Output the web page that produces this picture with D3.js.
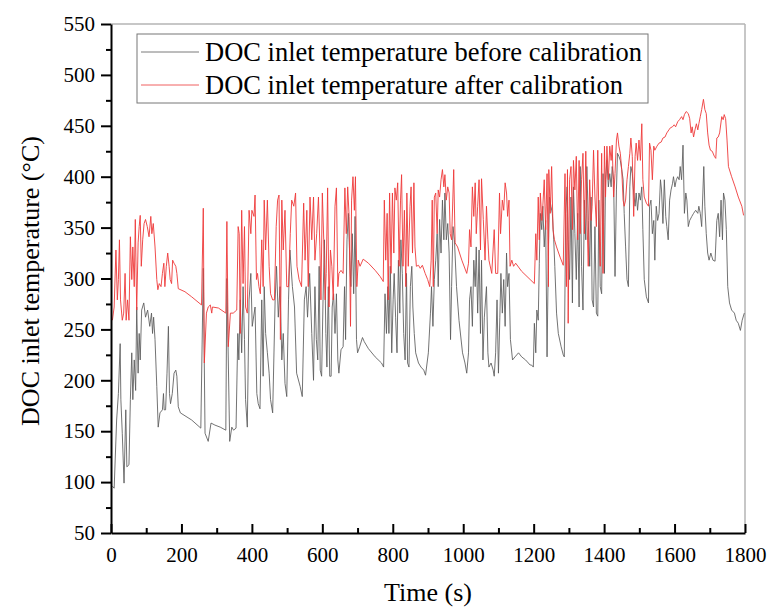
<!DOCTYPE html>
<html>
<head>
<meta charset="utf-8">
<script src="https://cdn.jsdelivr.net/npm/d3@7"></script>
<style>
body { margin: 0; background: #fff; }
#svgDiv { width: 767px; height: 607px; }
text { font-family: "Liberation Serif", "Times New Roman", serif; fill: #000; }
</style>
</head>
<body>
<div id="svgDiv"></div>
<script>
// values: [time (s), temperature (°C)]
var beforeSeries = [
  [4,96],[9,94],[16,161],[21,187],[26,236],[28,181],[32,148],[37,99],[42,171],[45,115],[51,117],[55,181],
  [59,227],[62,181],[66,220],[70,190],[73,272],[77,207],[80,246],[83,220],[87,269],[93,276],[98,262],[104,269],
  [110,253],[115,266],[118,246],[121,262],[125,240],[130,194],[134,154],[139,168],[146,171],[149,187],[151,171],
  [155,171],[159,207],[163,253],[166,187],[169,177],[174,187],[179,207],[184,210],[187,204],[191,174],[197,168],
  [229,161],[255,153],[262,310],[267,148],[276,140],[284,158],[295,156],[310,154],[326,151],[329,300],[337,140],
  [343,154],[348,151],[355,153],[360,246],[363,220],[367,279],[371,227],[375,292],[379,240],[382,181],[387,154],
  [392,279],[397,305],[401,253],[409,272],[414,187],[418,177],[423,172],[428,279],[432,204],[435,292],[439,246],
  [444,227],[449,207],[453,181],[459,168],[466,279],[470,312],[475,262],[480,292],[485,220],[489,246],[494,197],
  [499,184],[504,279],[508,328],[515,292],[521,272],[527,207],[537,194],[543,184],[549,279],[554,292],[558,262],
  [564,305],[570,246],[575,200],[579,292],[583,240],[587,220],[591,312],[594,210],[598,204],[602,279],[606,338],
  [610,246],[613,213],[617,292],[621,204],[625,204],[628,272],[632,285],[636,246],[640,285],[644,220],[647,207],
  [653,230],[659,233],[663,292],[666,240],[670,338],[674,364],[678,318],[681,292],[685,344],[689,285],[693,361],
  [697,240],[700,227],[706,233],[714,242],[719,238],[731,231],[750,223],[768,217],[774,213],[778,285],[782,246],
  [786,292],[789,246],[793,312],[797,227],[801,279],[804,305],[808,262],[812,227],[816,318],[820,266],[823,338],
  [827,305],[831,246],[835,220],[839,305],[842,217],[846,213],[850,292],[854,312],[857,272],[861,246],[865,227],
  [873,217],[880,213],[888,210],[893,205],[901,227],[907,266],[910,292],[914,253],[918,299],[922,318],[926,344],
  [929,292],[933,358],[937,325],[941,377],[945,338],[948,384],[952,338],[956,354],[960,325],[964,240],[967,292],
  [971,351],[975,338],[981,292],[988,259],[998,227],[1005,217],[1010,207],[1015,227],[1018,279],[1022,292],
  [1026,253],[1030,318],[1034,292],[1037,331],[1041,266],[1045,328],[1049,246],[1052,318],[1056,220],[1060,262],
  [1066,292],[1070,227],[1073,213],[1079,217],[1085,210],[1088,204],[1092,227],[1096,279],[1100,207],[1104,262],
  [1107,305],[1111,266],[1115,299],[1119,253],[1123,325],[1126,292],[1130,305],[1134,240],[1140,220],[1147,223],
  [1157,227],[1166,223],[1177,220],[1190,215],[1194,215],[1199,213],[1202,256],[1206,227],[1209,269],[1213,259],
  [1216,315],[1219,364],[1223,348],[1226,371],[1230,331],[1234,357],[1238,223],[1242,331],[1245,380],[1249,371],
  [1253,364],[1257,338],[1260,312],[1265,266],[1270,246],[1278,233],[1284,225],[1287,223],[1291,364],[1295,390],
  [1298,338],[1302,299],[1306,380],[1310,276],[1313,390],[1317,344],[1321,299],[1325,364],[1329,272],[1332,410],
  [1336,312],[1340,269],[1344,377],[1348,338],[1351,410],[1355,357],[1359,312],[1363,380],[1366,279],[1370,272],
  [1374,351],[1378,266],[1382,263],[1385,377],[1389,292],[1393,285],[1397,403],[1401,305],[1404,397],[1408,416],
  [1412,390],[1416,403],[1420,390],[1423,410],[1427,397],[1431,302],[1435,387],[1438,423],[1442,420],[1446,416],
  [1450,407],[1454,397],[1457,364],[1461,331],[1465,299],[1469,292],[1473,390],[1476,410],[1480,403],[1484,384],
  [1488,371],[1491,384],[1495,367],[1499,384],[1503,377],[1507,390],[1510,348],[1514,299],[1520,282],[1526,276],
  [1529,371],[1533,377],[1537,344],[1541,357],[1544,318],[1548,371],[1552,357],[1556,364],[1560,397],[1563,387],
  [1567,354],[1571,397],[1575,361],[1578,351],[1582,338],[1586,377],[1590,387],[1594,393],[1597,400],[1601,390],
  [1605,397],[1609,400],[1613,397],[1616,410],[1620,397],[1624,431],[1628,364],[1632,384],[1635,377],[1639,351],
  [1643,357],[1649,361],[1654,364],[1660,367],[1666,364],[1669,371],[1673,364],[1677,351],[1683,410],[1686,371],
  [1690,344],[1694,325],[1698,318],[1703,325],[1709,318],[1715,317],[1720,357],[1724,364],[1728,341],[1732,377],
  [1736,338],[1739,384],[1743,377],[1747,348],[1751,292],[1756,276],[1762,269],[1770,266],[1775,259],[1781,256],
  [1787,249],[1792,259],[1798,266]
];

var afterSeries = [
  [4,259],[9,272],[14,328],[18,279],[21,299],[24,338],[27,279],[32,259],[36,266],[40,305],[43,259],[47,279],
  [51,259],[55,341],[59,299],[62,331],[66,292],[69,358],[73,269],[77,335],[80,351],[83,362],[86,312],[90,338],
  [94,354],[98,358],[103,351],[108,341],[113,361],[116,344],[120,354],[125,331],[130,299],[133,289],[137,295],
  [142,292],[146,305],[150,315],[153,292],[157,312],[161,325],[165,312],[168,299],[172,295],[175,318],[179,315],
  [184,312],[187,305],[191,290],[210,287],[229,282],[257,274],[262,369],[265,217],[271,266],[276,272],[282,274],
  [286,266],[288,272],[305,271],[326,266],[329,356],[333,233],[339,266],[347,266],[357,269],[361,351],[364,344],
  [367,246],[371,367],[375,295],[379,351],[382,272],[387,266],[392,367],[397,344],[400,367],[406,361],[409,382],
  [413,299],[416,305],[420,292],[424,285],[428,338],[432,292],[435,377],[439,328],[444,377],[449,312],[453,285],
  [459,279],[464,279],[469,351],[473,377],[477,382],[481,240],[485,377],[489,328],[494,367],[499,292],[504,292],
  [509,344],[513,377],[519,371],[524,384],[528,312],[534,299],[541,292],[547,374],[551,318],[556,367],[560,292],
  [565,380],[570,338],[575,380],[579,318],[584,344],[589,380],[593,331],[596,279],[600,384],[604,338],[608,279],
  [611,305],[615,389],[619,272],[623,328],[627,312],[631,279],[636,371],[640,389],[644,292],[647,305],[653,308],
  [659,305],[664,389],[668,344],[672,390],[676,361],[680,253],[683,377],[687,400],[691,367],[694,400],[698,292],
  [702,318],[707,312],[716,319],[731,315],[750,308],[764,302],[773,297],[776,377],[780,318],[784,364],[787,279],
  [791,384],[795,305],[799,384],[803,325],[806,389],[810,377],[814,394],[818,312],[822,377],[825,402],[829,312],
  [833,367],[837,292],[840,384],[844,312],[849,371],[852,390],[856,325],[860,394],[863,331],[867,312],[873,313],
  [878,310],[884,313],[892,305],[899,299],[905,292],[909,318],[912,377],[915,292],[918,380],[922,384],[926,344],
  [929,387],[933,380],[937,397],[941,407],[945,390],[948,402],[952,377],[956,390],[960,384],[963,344],[967,338],
  [973,407],[977,335],[984,331],[996,318],[1010,305],[1015,315],[1018,348],[1022,331],[1026,390],[1030,361],
  [1034,394],[1037,344],[1041,371],[1045,397],[1049,328],[1052,398],[1057,358],[1062,318],[1066,371],[1070,338],
  [1073,318],[1081,305],[1088,348],[1092,305],[1098,305],[1103,384],[1106,344],[1111,377],[1115,367],[1119,394],
  [1123,384],[1126,361],[1130,377],[1133,312],[1138,318],[1143,312],[1149,315],[1166,307],[1190,299],[1202,295],
  [1206,344],[1209,318],[1213,380],[1216,338],[1219,384],[1223,357],[1226,371],[1230,397],[1234,348],[1238,403],
  [1242,292],[1243,407],[1247,364],[1251,410],[1255,348],[1259,338],[1265,331],[1275,321],[1284,313],[1289,403],
  [1293,292],[1296,407],[1298,256],[1302,397],[1306,410],[1310,348],[1313,416],[1317,387],[1321,420],[1325,338],
  [1329,416],[1332,344],[1336,397],[1340,423],[1344,344],[1348,425],[1351,364],[1355,312],[1359,397],[1363,357],
  [1366,371],[1370,426],[1374,380],[1378,351],[1382,426],[1385,364],[1389,312],[1393,423],[1397,305],[1401,430],
  [1404,380],[1408,430],[1412,397],[1416,430],[1420,416],[1423,431],[1427,380],[1431,403],[1435,436],[1438,443],
  [1442,430],[1446,423],[1450,407],[1454,377],[1457,371],[1461,377],[1465,397],[1469,410],[1473,423],[1476,438],
  [1480,420],[1484,361],[1488,420],[1491,433],[1495,416],[1499,436],[1503,416],[1507,452],[1510,397],[1514,380],
  [1520,374],[1526,371],[1529,433],[1533,426],[1537,397],[1541,430],[1544,426],[1550,430],[1556,433],[1562,434],
  [1567,438],[1573,439],[1578,443],[1584,446],[1588,448],[1594,449],[1599,451],[1603,449],[1609,454],[1614,456],
  [1620,459],[1624,456],[1628,461],[1633,464],[1639,462],[1643,457],[1647,443],[1650,449],[1654,439],[1658,446],
  [1662,452],[1666,446],[1669,452],[1673,459],[1677,466],[1682,476],[1686,466],[1690,462],[1694,443],[1698,431],
  [1702,426],[1707,425],[1713,420],[1717,418],[1720,438],[1724,439],[1728,443],[1734,459],[1738,456],[1741,461],
  [1745,457],[1749,436],[1753,410],[1762,400],[1772,390],[1781,380],[1791,371],[1796,362]
];

var xMajorTicks = [0, 200, 400, 600, 800, 1000, 1200, 1400, 1600, 1800];
var xMinorTicks = [100, 300, 500, 700, 900, 1100, 1300, 1500, 1700];
var yMajorTicks = [50, 100, 150, 200, 250, 300, 350, 400, 450, 500, 550];
var yMinorTicks = [75, 125, 175, 225, 275, 325, 375, 425, 475, 525];
var legendLabels = ["DOC inlet temperature before calibration", "DOC inlet temperature after calibration"];
var seriesColors = ["#5a5a5a", "#ee3a3a"];

var svg, xScale, yScale;
var plotLeft = 111, plotRight = 745, plotTop = 24, plotBottom = 533;
var serifFont = '"Liberation Serif", "Times New Roman", serif';

document.addEventListener('DOMContentLoaded', function(){
    svg = d3.select("#svgDiv")
        .append("svg")
        .attr("width", 767)
        .attr("height", 607);

    xScale = d3.scaleLinear().domain([0, 1800]).range([plotLeft, plotRight]);
    yScale = d3.scaleLinear().domain([50, 550]).range([plotBottom, plotTop]);

    drawFrame();
    drawLines();
    drawAxes();
    drawLegend();
});

// light grey top and right border
function drawFrame(){
    svg.append("line")
        .attr("x1", plotLeft).attr("x2", plotRight)
        .attr("y1", plotTop).attr("y2", plotTop)
        .attr("stroke", "#b4b4b4").attr("stroke-width", 1.5);
    svg.append("line")
        .attr("x1", plotRight).attr("x2", plotRight)
        .attr("y1", plotTop).attr("y2", plotBottom)
        .attr("stroke", "#b4b4b4").attr("stroke-width", 1.5);
}

function drawLines(){
    var line = d3.line()
        .x(d => xScale(d[0]))
        .y(d => yScale(d[1]));

    [beforeSeries, afterSeries].forEach(function(s, i){
        svg.append("path")
            .datum(s)
            .attr("fill", "none")
            .attr("stroke", seriesColors[i])
            .attr("stroke-width", 1)
            .attr("stroke-linejoin", "round")
            .attr("opacity", i == 0 ? 0.85 : 0.9)
            .attr("d", line);
    });
}

function drawAxes(){
    var fmt = d3.format("d");

    // y axis, ticks pointing out
    svg.append("g")
        .attr("class", "axis")
        .attr("transform", "translate(" + plotLeft + ",0)")
        .call(d3.axisLeft(yScale).tickValues(yMajorTicks).tickFormat(fmt).tickSize(10).tickSizeOuter(0).tickPadding(6));
    svg.append("g")
        .attr("class", "axis")
        .attr("transform", "translate(" + plotLeft + ",0)")
        .call(d3.axisLeft(yScale).tickValues(yMinorTicks).tickSize(5).tickSizeOuter(0).tickFormat(""))
        .select(".domain").remove();

    // x axis, ticks pointing in
    svg.append("g")
        .attr("class", "axis")
        .attr("transform", "translate(0," + plotBottom + ")")
        .call(d3.axisBottom(xScale).tickValues(xMajorTicks).tickFormat(fmt).tickSize(-9).tickSizeOuter(0).tickPadding(14));
    svg.append("g")
        .attr("class", "axis")
        .attr("transform", "translate(0," + plotBottom + ")")
        .call(d3.axisBottom(xScale).tickValues(xMinorTicks).tickSize(-5).tickSizeOuter(0).tickFormat(""))
        .select(".domain").remove();

    svg.selectAll(".axis").attr("font-family", serifFont).attr("font-size", 21);
    svg.selectAll(".tick line").attr("stroke", "#000").attr("stroke-width", 2);
    svg.selectAll(".domain").attr("stroke", "#000").attr("stroke-width", 2);
    svg.selectAll(".tick text")
        .attr("font-family", serifFont)
        .style("font-family", serifFont)
        .style("font-size", "21px")
        .attr("fill", "#000");

    svg.append("text")
        .attr("x", 428).attr("y", 601)
        .attr("text-anchor", "middle")
        .style("font-size", "26px")
        .text("Time (s)");

    svg.append("text")
        .attr("transform", "translate(39,281) rotate(-90)")
        .attr("text-anchor", "middle")
        .style("font-size", "26px")
        .text("DOC inlet temperature (°C)");
}

function drawLegend(){
    var lg = svg.append("g");
    lg.append("rect")
        .attr("x", 137).attr("y", 34)
        .attr("width", 511).attr("height", 69)
        .attr("fill", "#fff")
        .attr("stroke", "#777").attr("stroke-width", 1);

    legendLabels.forEach(function(lbl, i){
        var yy = 52 + i * 33;
        lg.append("line")
            .attr("x1", 141).attr("x2", 199)
            .attr("y1", yy).attr("y2", yy)
            .attr("stroke", seriesColors[i]).attr("stroke-width", 1)
            .attr("opacity", 0.8);
        lg.append("text")
            .attr("x", 205).attr("y", yy)
            .attr("dy", "0.34em")
            .style("font-size", "26.5px")
            .text(lbl);
    });
}
</script>
</body>
</html>
